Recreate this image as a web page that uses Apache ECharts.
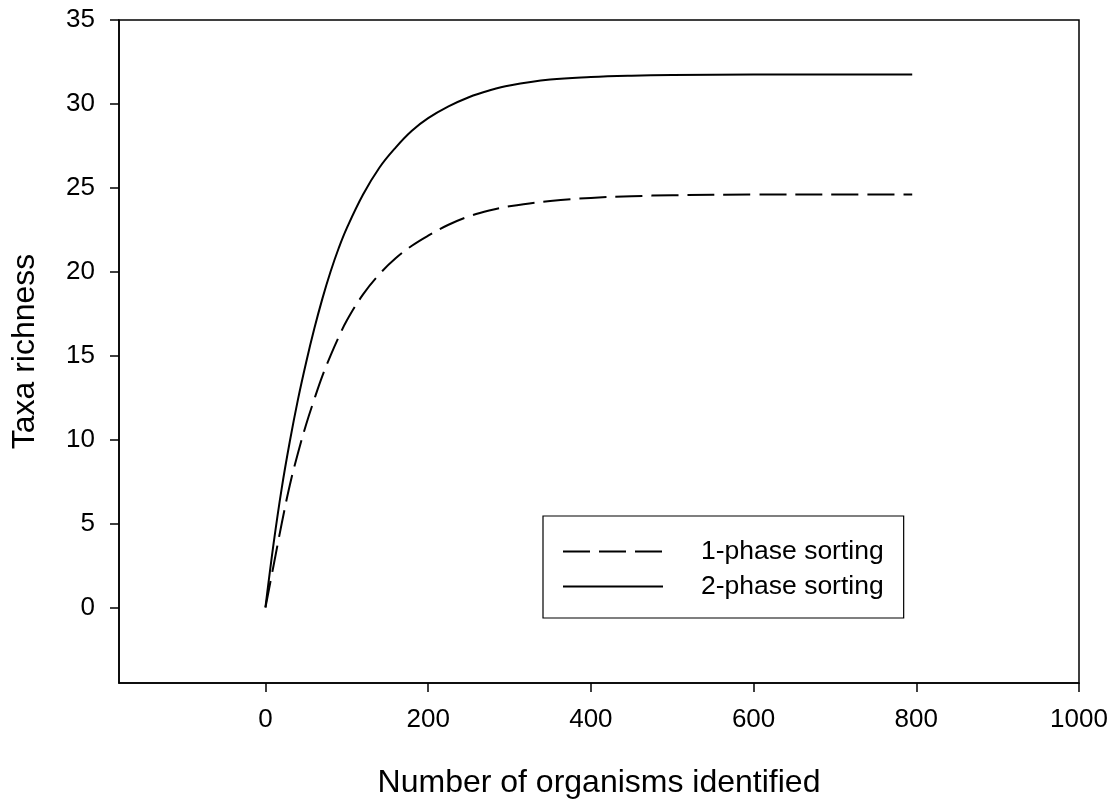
<!DOCTYPE html>
<html>
<head>
<meta charset="utf-8">
<script src="https://cdn.jsdelivr.net/npm/echarts@6/dist/echarts.min.js"></script>
<style>
html,body{margin:0;padding:0;background:#fff;}
#chart{width:1112px;height:804px;}
</style>
</head>
<body>
<div id="chart"></div>
<script>
// Data
var xValues = [0,10,20,30,40,50,60,70,80,90,100,120,140,160,180,200,225,250,275,300,350,400,450,500,600,700,795];
var twoPhase = [0,3.8,7.1,9.9,12.4,14.6,16.6,18.4,20.0,21.4,22.6,24.6,26.2,27.4,28.4,29.15,29.85,30.4,30.8,31.1,31.45,31.6,31.68,31.72,31.75,31.76,31.76];
var onePhase = [0,2.5,5.0,7.3,9.2,10.9,12.4,13.8,15.0,16.1,17.1,18.65,19.85,20.8,21.55,22.15,22.8,23.3,23.65,23.9,24.22,24.4,24.5,24.56,24.6,24.6,24.6];
var xTicks = [0,200,400,600,800,1000];
var yTicks = [0,5,10,15,20,25,30,35];
var seriesNames = ['1-phase sorting','2-phase sorting'];
var xTitle = 'Number of organisms identified';
var yTitle = 'Taxa richness';

function pairs(xs, ys){ return xs.map(function(x,i){ return [x, ys[i]]; }); }

var FONT = '"Liberation Sans", Arial, sans-serif';
var chart = echarts.init(document.getElementById('chart'), null, {renderer:'canvas'});
chart.setOption({
  animation:false,
  backgroundColor:'#fff',
  grid:{left:119, right:33, top:20, bottom:112, show:true, borderColor:'#000', borderWidth:1.5, backgroundColor:'transparent'},
  legend:{
    orient:'vertical', left:543, top:516,
    padding:[22,20,18,19],
    borderColor:'#000', borderWidth:1.2,
    itemWidth:100, itemHeight:14, itemGap:8,
    itemStyle:{color:'transparent', borderColor:'transparent', borderWidth:0, opacity:0},
    textStyle:{fontFamily:FONT, fontSize:26.5, color:'#000', padding:[0,0,0,33]},
    data:seriesNames
  },
  xAxis:{
    type:'value', min:-180, max:1000,
    name:xTitle, nameLocation:'middle', nameGap:84,
    nameTextStyle:{fontFamily:FONT, fontSize:32, color:'#000'},
    axisLine:{show:true, onZero:false, lineStyle:{color:'#000', width:1.5}},
    axisTick:{show:true, inside:false, length:9, lineStyle:{color:'#000', width:1.5}, customValues:xTicks},
    axisLabel:{fontFamily:FONT, fontSize:26, color:'#000', margin:24, customValues:xTicks,
      formatter:function(v){ return String(v); }},
    splitLine:{show:false}
  },
  yAxis:{
    type:'value', min:-4.5, max:35,
    name:yTitle, nameLocation:'middle', nameGap:78, nameRotate:90,
    nameTextStyle:{fontFamily:FONT, fontSize:32, color:'#000'},
    axisLine:{show:true, onZero:false, lineStyle:{color:'#000', width:1.5}},
    axisTick:{show:true, inside:false, length:9, lineStyle:{color:'#000', width:1.5}, customValues:yTicks},
    axisLabel:{fontFamily:FONT, fontSize:26, color:'#000', margin:24, customValues:yTicks,
      formatter:function(v){ return String(v); }},
    splitLine:{show:false}
  },
  series:[
    {name:seriesNames[0], type:'line', data:pairs(xValues,onePhase), symbol:'none', showSymbol:false,
     smooth:0.4, lineStyle:{color:'#000', width:2, type:[27,9]}, itemStyle:{color:'#000'}},
    {name:seriesNames[1], type:'line', data:pairs(xValues,twoPhase), symbol:'none', showSymbol:false,
     smooth:0.4, lineStyle:{color:'#000', width:2, type:'solid'}, itemStyle:{color:'#000'}}
  ]
});
</script>
</body>
</html>
